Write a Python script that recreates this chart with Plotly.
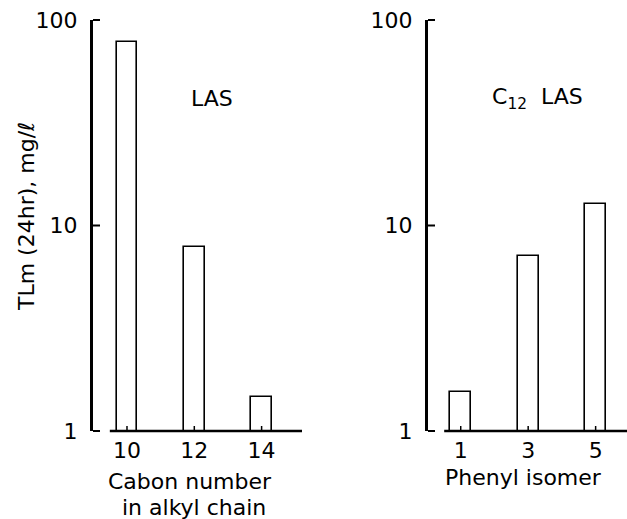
import plotly.graph_objects as go

# Data
carbon_numbers = [10, 12, 14]
tlm_carbon = [78, 7.9, 1.47]
phenyl_isomers = [1, 3, 5]
tlm_phenyl = [1.54, 7.1, 12.7]
y_ticks = [1, 10, 100]
y_ticklabels = ["1", "10", "100"]

FONT = "DejaVu Sans"
W, H = 627, 519
ML, MR, MT, MB = 93, 0, 20, 88
PW = W - ML - MR
PH = H - MT - MB

fig = go.Figure()
fig.add_trace(go.Bar(x=carbon_numbers, y=tlm_carbon, width=0.62,
                     marker=dict(color="white", line=dict(color="black", width=1.6)),
                     xaxis="x", yaxis="y", showlegend=False))
fig.add_trace(go.Bar(x=phenyl_isomers, y=tlm_phenyl, width=0.62,
                     marker=dict(color="white", line=dict(color="black", width=1.6)),
                     xaxis="x2", yaxis="y2", showlegend=False))

def px_x(p):
    return (p - ML) / PW

def px_y(p):
    return (H - MB - p) / PH

xcommon = dict(showline=False, showgrid=False, zeroline=False, ticks="",
               tickfont=dict(family=FONT, size=22, color="black"),
               ticklabelstandoff=4)
ycommon = dict(type="log", range=[0, 2], showline=True, linewidth=3, linecolor="black",
               showgrid=False, zeroline=False, ticks="",
               tickvals=y_ticks, ticktext=y_ticklabels,
               tickfont=dict(family=FONT, size=22, color="black"),
               ticklabelstandoff=8)

fig.update_layout(
    width=W, height=H,
    margin=dict(l=ML, r=MR, t=MT, b=MB),
    paper_bgcolor="white", plot_bgcolor="white",
    xaxis=dict(domain=[0, px_x(302)], range=[8.99, 15.2], tickvals=carbon_numbers, **xcommon),
    yaxis=dict(anchor="x", **ycommon),
    xaxis2=dict(domain=[px_x(428), 1], range=[0.03, 5.93], tickvals=phenyl_isomers,
                anchor="y2", **xcommon),
    yaxis2=dict(anchor="x2", **ycommon),
    bargap=0,
)

# x-axis baselines (detached from the y axes)
fig.add_shape(type="line", xref="x", yref="y domain", x0=9.49, x1=15.2, y0=0, y1=0,
              line=dict(color="black", width=2.5))
fig.add_shape(type="line", xref="x2", yref="y2 domain", x0=0.51, x1=5.93, y0=0, y1=0,
              line=dict(color="black", width=2.5))

# inside tick marks on the y axes (decades at domain fractions 0, 0.5, 1)
for xd, yd in (("x domain", "y domain"), ("x2 domain", "y2 domain")):
    for frac in (0, 0.5, 1):
        fig.add_shape(type="line", xref=xd, yref=yd, xsizemode="pixel", xanchor=0,
                      x0=0, x1=7, y0=frac, y1=frac, line=dict(color="black", width=2))

# inside tick marks on the x axes at each category
for xr, yd, vals in (("x", "y domain", carbon_numbers), ("x2", "y2 domain", phenyl_isomers)):
    for v in vals:
        fig.add_shape(type="line", xref=xr, yref=yd, ysizemode="pixel", yanchor=0,
                      x0=v, x1=v, y0=0, y1=5, line=dict(color="black", width=1.5))

ann_font = dict(family=FONT, size=22, color="black")
fig.add_annotation(text="LAS", xref="paper", yref="paper", x=px_x(212), y=px_y(98),
                   showarrow=False, font=ann_font, xanchor="center", yanchor="middle")
fig.add_annotation(text="C<sub>12</sub>  LAS", xref="paper", yref="paper", x=px_x(537), y=px_y(98),
                   showarrow=False, font=ann_font, xanchor="center", yanchor="middle")
fig.add_annotation(text="Cabon number", xref="paper", yref="paper",
                   x=px_x(190), y=px_y(481), showarrow=False, font=ann_font,
                   xanchor="center", yanchor="middle")
fig.add_annotation(text="in alkyl chain", xref="paper", yref="paper",
                   x=px_x(194), y=px_y(507), showarrow=False, font=ann_font,
                   xanchor="center", yanchor="middle")
fig.add_annotation(text="Phenyl isomer", xref="paper", yref="paper",
                   x=px_x(523), y=px_y(477), showarrow=False, font=ann_font,
                   xanchor="center", yanchor="middle")
fig.add_annotation(text="TLm (24hr), mg/ℓ", xref="paper", yref="paper",
                   x=px_x(26), y=px_y(217), showarrow=False, font=ann_font,
                   textangle=-90, xanchor="center", yanchor="middle")

fig.write_html("out.html", config={"displayModeBar": False},
               post_script="document.body.style.margin='0';document.body.style.overflow='hidden';")
